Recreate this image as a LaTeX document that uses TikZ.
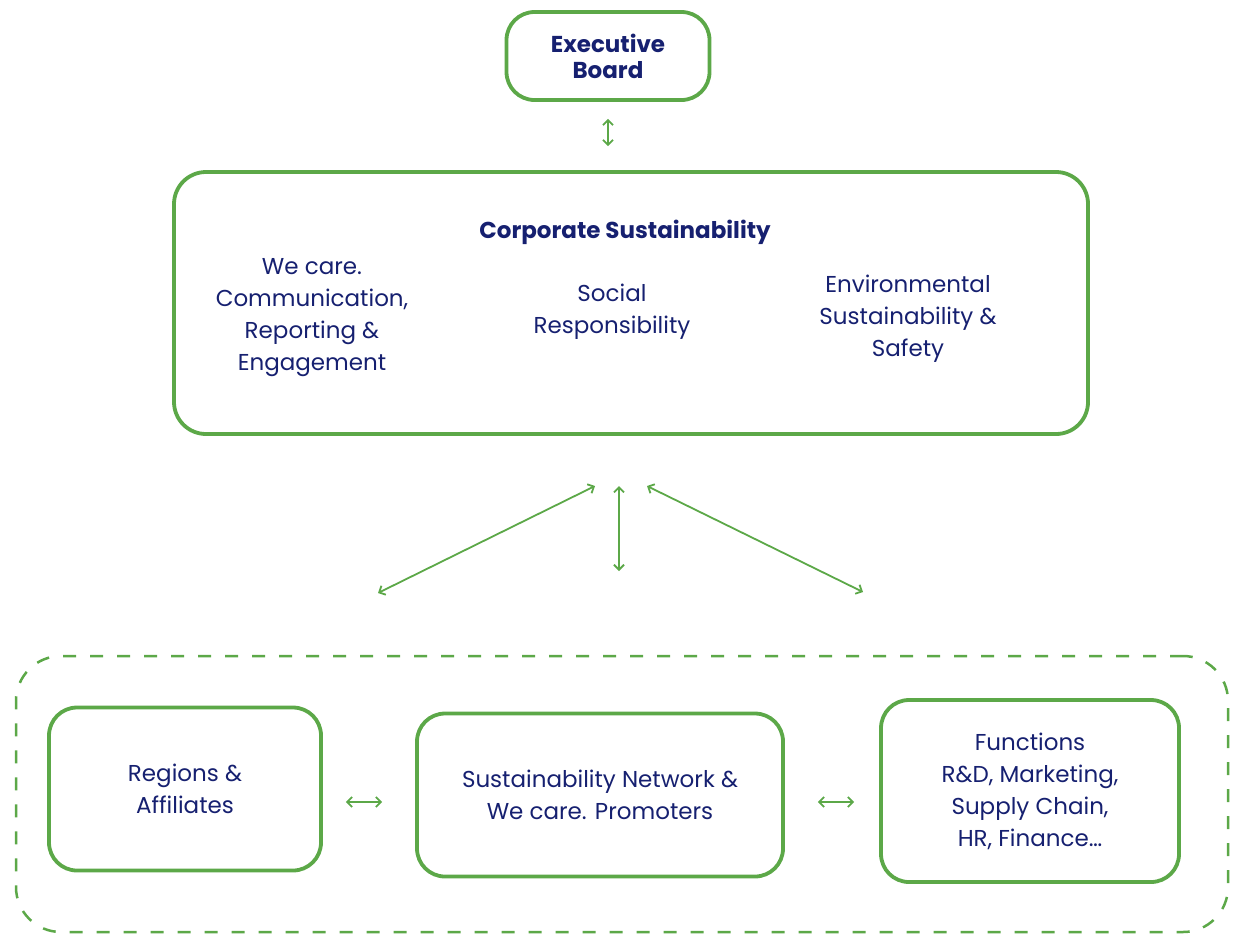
\documentclass[tikz,border=0pt]{standalone}
\usepackage{fontspec}
\setmainfont{Poppins}
\usetikzlibrary{arrows.meta}
\definecolor{leafgreen}{RGB}{92,168,72}
\definecolor{inkblue}{RGB}{22,32,112}

\begin{document}
\begin{tikzpicture}
  [x=1pt,y=-1pt,
   every node/.style={text=inkblue,align=center,font=\fontsize{23}{32}\selectfont},
   box/.style={draw=leafgreen,line width=3.8pt,rounded corners=28pt,inner sep=0pt},
   head/.style={font=\bfseries\fontsize{23}{26}\selectfont},
   link/.style={draw=leafgreen,line width=1.8pt,{Straight Barb[length=5pt,width=10pt]}-{Straight Barb[length=5pt,width=10pt]}}]
  \useasboundingbox (0,0) rectangle (1233,938);

  \node (board)[box,head,minimum width=203pt,minimum height=88pt] at (608,56) {Executive\\Board};
  \node (corp)[box,minimum width=914pt,minimum height=262pt,rounded corners=32pt] at (631,303) {};
  \node (corptitle)[head] at (625,232) {Corporate Sustainability};
  \node (care) at (312,318) {We care.\\Communication,\\Reporting \&\\Engagement};
  \node (social) at (612,312) {Social\\Responsibility};
  \node (env) at (908,319) {Environmental\\Sustainability \&\\Safety};

  \node (network)[draw=leafgreen,line width=2.5pt,dash pattern=on 13pt off 14pt,rounded corners=45pt,minimum width=1212pt,minimum height=276pt] at (622,794) {};
  \node (regions)[box,minimum width=272pt,minimum height=163pt] at (185,789) {Regions \&\\Affiliates};
  \node (promoters)[box,minimum width=366pt,minimum height=163pt] at (600,795) {Sustainability Network \&\\We care. Promoters};
  \node (functions)[box,minimum width=298pt,minimum height=182pt] at (1030,791) {Functions\\R\&D, Marketing,\\Supply Chain,\\HR, Finance…};

  \coordinate (upleft) at (595,486);
  \coordinate (downleft) at (378,593);
  \coordinate (upmid) at (619,486);
  \coordinate (downmid) at (619,571);
  \coordinate (upright) at (647,486);
  \coordinate (downright) at (863,592);

  \draw[link,shorten <=17pt,shorten >=24pt] (board.south) -- (board.south |- corp.north);
  \foreach \from/\to in {upleft/downleft,upmid/downmid,upright/downright}
    \draw[link] (\from) -- (\to);
  \draw[link,shorten <=23pt,shorten >=33pt] (regions.east |- 0,802) -- (promoters.west |- 0,802);
  \draw[link,shorten <=33pt,shorten >=25pt] (promoters.east |- 0,802) -- (functions.west |- 0,802);

\end{tikzpicture}
\end{document}
